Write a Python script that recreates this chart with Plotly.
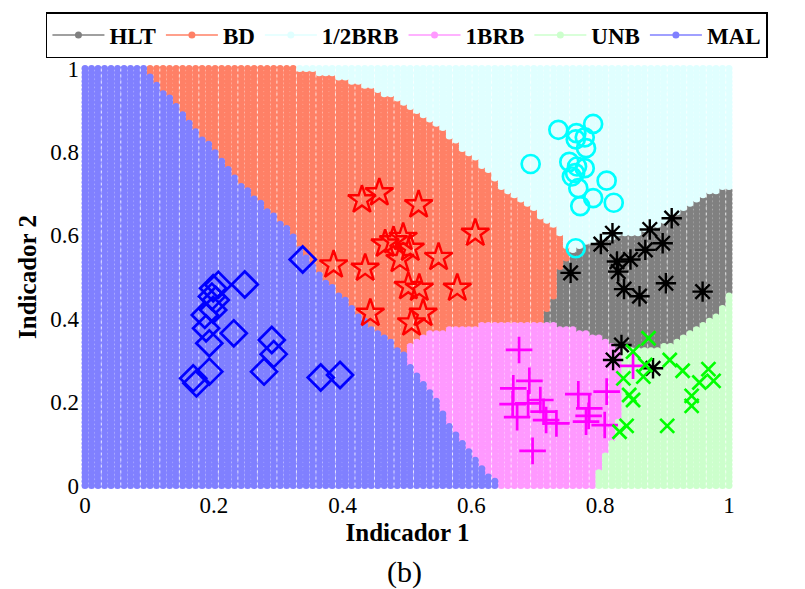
import numpy as np
import plotly.graph_objects as go

# ---- sample points per class (Indicador 1, Indicador 2) ----
hlt_x = [0.819, 0.801, 0.877, 0.911, 0.897, 0.870, 0.826, 0.847, 0.828, 0.754,
         0.837, 0.902, 0.959, 0.861, 0.833, 0.820, 0.882]
hlt_y = [0.605, 0.579, 0.614, 0.641, 0.581, 0.565, 0.537, 0.542, 0.513, 0.510,
         0.471, 0.485, 0.465, 0.454, 0.337, 0.301, 0.281]

bd_x = [0.430, 0.457, 0.518, 0.606, 0.386, 0.435, 0.466, 0.479, 0.494, 0.505,
        0.489, 0.549, 0.502, 0.519, 0.578, 0.443, 0.525, 0.507]
bd_y = [0.685, 0.702, 0.673, 0.605, 0.529, 0.521, 0.579, 0.587, 0.595, 0.569,
        0.542, 0.547, 0.477, 0.473, 0.473, 0.413, 0.413, 0.390]

half_x = [0.735, 0.763, 0.789, 0.762, 0.776, 0.778, 0.692, 0.752, 0.764, 0.776,
          0.761, 0.756, 0.766, 0.810, 0.789, 0.769, 0.821, 0.762]
half_y = [0.853, 0.845, 0.867, 0.830, 0.835, 0.809, 0.771, 0.776, 0.765, 0.761,
          0.749, 0.741, 0.713, 0.731, 0.689, 0.670, 0.678, 0.569]

brb_x = [0.674, 0.690, 0.665, 0.664, 0.688, 0.707, 0.671, 0.712, 0.716, 0.732,
         0.695, 0.766, 0.783, 0.782, 0.778, 0.810, 0.807, 0.851]
brb_y = [0.325, 0.251, 0.233, 0.195, 0.197, 0.205, 0.164, 0.177, 0.157, 0.149,
         0.083, 0.219, 0.185, 0.167, 0.153, 0.225, 0.145, 0.287]

unb_x = [0.875, 0.851, 0.870, 0.867, 0.836, 0.845, 0.851, 0.841, 0.830, 0.908,
         0.928, 0.968, 0.976, 0.954, 0.942, 0.942, 0.904]
unb_y = [0.353, 0.321, 0.289, 0.261, 0.257, 0.217, 0.205, 0.143, 0.129, 0.301,
         0.275, 0.279, 0.251, 0.247, 0.215, 0.191, 0.143]

mal_x = [0.338, 0.199, 0.207, 0.248, 0.197, 0.203, 0.199, 0.186, 0.188, 0.231,
         0.193, 0.290, 0.293, 0.193, 0.278, 0.168, 0.173, 0.366, 0.396]
mal_y = [0.542, 0.473, 0.481, 0.482, 0.453, 0.445, 0.421, 0.409, 0.377, 0.365,
         0.341, 0.349, 0.315, 0.273, 0.273, 0.257, 0.245, 0.259, 0.265]

# ---- decision-region boundaries (polylines between neighbouring classes) ----
mal_bd = [(0.096, 1.0), (0.114, 0.956), (0.145, 0.912), (0.173, 0.848), (0.205, 0.800),
          (0.236, 0.737), (0.272, 0.681), (0.316, 0.613), (0.354, 0.525), (0.417, 0.425),
          (0.443, 0.381), (0.494, 0.321)]
mal_brb = [(0.494, 0.321), (0.510, 0.277), (0.536, 0.229), (0.562, 0.157), (0.593, 0.093),
           (0.613, 0.045), (0.645, 0.0)]
bd_brb = [(0.494, 0.321), (0.525, 0.361), (0.587, 0.381), (0.665, 0.389), (0.717, 0.389)]
bd_hlt = [(0.717, 0.389), (0.712, 0.413), (0.727, 0.445), (0.732, 0.509), (0.753, 0.549)]
bd_half = [(0.330, 1.0), (0.400, 0.975), (0.450, 0.950), (0.500, 0.910), (0.550, 0.860),
           (0.587, 0.804), (0.620, 0.760), (0.644, 0.715), (0.670, 0.693), (0.701, 0.653),
           (0.732, 0.613), (0.745, 0.581), (0.753, 0.549)]
hlt_half = [(0.753, 0.549), (0.763, 0.573), (0.800, 0.589), (0.841, 0.601), (0.872, 0.609),
            (0.903, 0.629), (0.934, 0.669), (0.965, 0.701), (1.0, 0.733)]
hlt_brb = [(0.717, 0.389), (0.769, 0.373), (0.794, 0.357), (0.830, 0.330)]
hlt_unb = [(0.830, 0.330), (0.872, 0.325), (0.913, 0.341), (0.955, 0.381), (0.986, 0.421),
           (1.0, 0.461)]
brb_unb = [(0.830, 0.330), (0.831, 0.293), (0.836, 0.253), (0.831, 0.173), (0.820, 0.117),
           (0.805, 0.061), (0.790, 0.0)]

classes = ["HLT", "BD", "1/2BRB", "1BRB", "UNB", "MAL"]
region_colors = {"HLT": "#808080", "BD": "#FF8066", "1/2BRB": "#E0FFFF",
                 "1BRB": "#FF99FF", "UNB": "#CCFFCC", "MAL": "#8080FF"}

E = 0.05  # polygons reach past the unit square so edge grid points are covered
polys = {
    "MAL": [(-E, -E), (-E, 1 + E), (0.09, 1 + E)] + mal_bd + mal_brb[1:] + [(0.65, -E)],
    "1BRB": [(0.65, -E)] + mal_brb[::-1] + bd_brb[1:] + hlt_brb[1:] + brb_unb[1:] + [(0.79, -E)],
    "UNB": [(0.79, -E)] + brb_unb[::-1] + hlt_unb[1:] + [(1 + E, 0.465), (1 + E, -E)],
    "HLT": hlt_brb + hlt_unb[1:] + [(1 + E, 0.465), (1 + E, 0.735)] + hlt_half[::-1][1:] + bd_hlt[::-1][1:],
    "BD": [(0.09, 1 + E), (0.335, 1 + E)] + bd_half + bd_hlt[::-1][1:] + bd_brb[::-1][1:] + mal_bd[::-1][1:],
}


def inside(px, py, poly):
    pts = np.asarray(poly, dtype=float)
    xs, ys = pts[:, 0], pts[:, 1]
    res = np.zeros(px.shape, dtype=bool)
    j = len(pts) - 1
    for i in range(len(pts)):
        xi, yi, xj, yj = xs[i], ys[i], xs[j], ys[j]
        if yi != yj:
            cross = ((yi > py) != (yj > py)) & (px < (xj - xi) * (py - yi) / (yj - yi) + xi)
            res ^= cross
        j = i
    return res


# evaluation grid of the classifier map
n_grid = 100
grid = np.linspace(0, 1, n_grid)
gx, gy = np.meshgrid(grid, grid)
gx, gy = gx.ravel(), gy.ravel()
label = np.full(gx.shape, "1/2BRB", dtype=object)
for name in ["MAL", "1BRB", "UNB", "HLT", "BD"]:
    label[inside(gx, gy, polys[name])] = name

fig = go.Figure()

for name in classes:
    m = label == name
    fig.add_trace(go.Scatter(
        x=gx[m], y=gy[m], mode="markers", showlegend=False, hoverinfo="skip",
        marker=dict(symbol="circle", size=7, color=region_colors[name], line=dict(width=0)),
    ))

# thin light seams between every third column of grid dots
step = grid[1] - grid[0]
seam_x, seam_y = [], []
for c in grid[2:-1:3]:
    seam_x += [c + step / 2, c + step / 2, None]
    seam_y += [0, 1, None]
fig.add_trace(go.Scatter(
    x=seam_x, y=seam_y, mode="lines", showlegend=False, hoverinfo="skip",
    line=dict(color="rgba(255,255,255,0.75)", width=1, dash="dot"),
))

# legend entries (line with dot, one per class)
for name in classes:
    fig.add_trace(go.Scatter(
        x=[None], y=[None], mode="lines+markers", name=f"<b>{name}</b>",
        line=dict(color=region_colors[name], width=1.5),
        marker=dict(symbol="circle", size=7, color=region_colors[name]),
    ))

samples = [
    (hlt_x, hlt_y, "asterisk-open", 17, "black", 2.4),
    (bd_x, bd_y, "star-open", 21, "red", 2.4),
    (half_x, half_y, "circle-open", 18, "#00FFFF", 2.7),
    (brb_x, brb_y, "cross-thin-open", 19, "#FF00FF", 2.7),
    (unb_x, unb_y, "x-thin-open", 14, "#00FF00", 2.7),
    (mal_x, mal_y, "diamond-open", 20, "blue", 2.7),
]
for xs, ys, sym, size, col, lw in samples:
    fig.add_trace(go.Scatter(
        x=xs, y=ys, mode="markers", showlegend=False,
        marker=dict(symbol=sym, size=size, color=col, line=dict(color=col, width=lw)),
    ))

serif = "Liberation Serif, Times New Roman, serif"
axis_common = dict(
    showgrid=False, zeroline=False, showline=False, ticks="",
    tickvals=[0, 0.2, 0.4, 0.6, 0.8, 1], ticktext=["0", "0.2", "0.4", "0.6", "0.8", "1"],
    tickfont=dict(family=serif, size=23, color="black"),
)
fig.update_xaxes(range=[-0.0078, 1.0093], title=dict(
    text="<b>Indicador 1</b>", font=dict(family=serif, size=25, color="black"), standoff=6),
    **axis_common)
fig.update_yaxes(range=[-0.0084, 1.0084], title=dict(
    text="<b>Indicador 2</b>", font=dict(family=serif, size=25, color="black"), standoff=6),
    **axis_common)

fig.add_annotation(text="(b)", x=0.496, y=-0.196, xref="paper", yref="paper",
                   yanchor="middle", showarrow=False,
                   font=dict(family=serif, size=30, color="black"))

fig.update_layout(
    width=805, height=589,
    margin=dict(l=80, r=70, t=65, b=100),
    paper_bgcolor="white", plot_bgcolor="white",
    legend=dict(orientation="h", x=-0.052, xanchor="left", y=1.125, yanchor="top",
                bordercolor="black", borderwidth=1.5, bgcolor="white",
                font=dict(family=serif, size=23, color="black"),
                itemwidth=52, traceorder="normal"),
    showlegend=True,
)

fig.write_html("out.html")
